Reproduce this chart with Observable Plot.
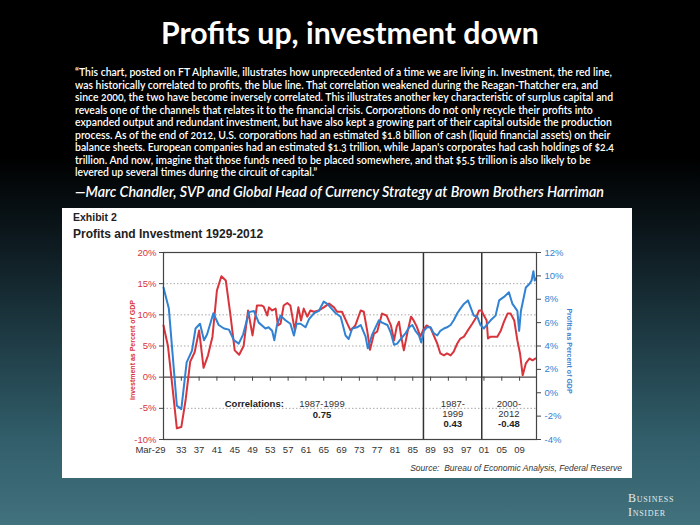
<!DOCTYPE html>
<html><head><meta charset="utf-8">
<script src="https://cdn.jsdelivr.net/npm/d3@7"></script>
<script src="https://cdn.jsdelivr.net/npm/@observablehq/plot@0.6"></script>
<style>
html,body{margin:0;padding:0;}
body{width:700px;height:525px;overflow:hidden;position:relative;
  background:linear-gradient(180deg,#000 0%,#000 30%,#0c181d 45%,#1d3841 63%,#305d69 83%,#42727d 100%);
  font-family:Lato,"Open Sans",sans-serif;}
#title{position:absolute;left:0;width:700px;top:17px;text-align:center;color:#fff;font-weight:700;font-size:29px;line-height:1;white-space:nowrap;}
#quote{position:absolute;left:75px;top:66px;color:#fff;font-size:11px;line-height:12.5px;font-weight:600;white-space:nowrap;transform-origin:0 0;font-variant-numeric:oldstyle-nums;}
#attr{position:absolute;left:75px;top:182px;color:#fff;font-style:italic;font-weight:600;font-size:15px;line-height:18px;white-space:nowrap;transform-origin:0 0;}
#panel{position:absolute;left:62px;top:208px;width:570px;height:270px;background:#fff;font-family:"Liberation Sans",Arial,sans-serif;}
#ex{position:absolute;left:11px;top:3px;font-weight:700;font-size:10.5px;color:#222;}
#sub{position:absolute;left:11px;top:19px;font-weight:700;font-size:12px;color:#222;}
#chart{position:absolute;left:1px;top:32px;}
.ytitle{position:absolute;font-weight:700;font-size:7px;white-space:nowrap;transform:translate(-50%,-50%) rotate(-90deg);}
#ltitle{left:70px;top:142px;color:#d8343b;}
#rtitle{left:507px;top:143px;color:#3a82d2;transform:translate(-50%,-50%) rotate(90deg);}
#source{position:absolute;right:10px;top:255px;font-style:italic;font-size:8.5px;color:#333;white-space:nowrap;}
#bi{position:absolute;left:628px;top:492px;color:#e3ecee;font-family:"Liberation Serif","DejaVu Serif",serif;font-variant:small-caps;font-size:12px;line-height:13.5px;letter-spacing:0.7px;}
</style></head>
<body>
<div id="title">Profits up, investment down</div>
<div id="quote">
<div><span>“This chart, posted on FT Alphaville, illustrates how unprecedented of a time we are living in. Investment, the red line,</span></div>
<div><span>was historically correlated to profits, the blue line. That correlation weakened during the Reagan-Thatcher era, and</span></div>
<div><span>since 2000, the two have become inversely correlated. This illustrates another key characteristic of surplus capital and</span></div>
<div><span>reveals one of the channels that relates it to the financial crisis. Corporations do not only recycle their profits into</span></div>
<div><span>expanded output and redundant investment, but have also kept a growing part of their capital outside the production</span></div>
<div><span>process. As of the end of 2012, U.S. corporations had an estimated $1.8 billion of cash (liquid financial assets) on their</span></div>
<div><span>balance sheets. European companies had an estimated $1.3 trillion, while Japan's corporates had cash holdings of $2.4</span></div>
<div><span>trillion. And now, imagine that those funds need to be placed somewhere, and that $5.5 trillion is also likely to be</span></div>
<div><span>levered up several times during the circuit of capital.”</span></div>
</div>
<div id="attr"><span>—Marc Chandler, SVP and Global Head of Currency Strategy at Brown Brothers Harriman</span></div>
<div id="panel">
  <div id="ex">Exhibit 2</div>
  <div id="sub">Profits and Investment 1929-2012</div>
  <div id="chart"></div>
  <div id="ltitle" class="ytitle">Investment as Percent of GDP</div>
  <div id="rtitle" class="ytitle">Profits as Percent of GDP</div>
  <div id="source">Source:&nbsp; Bureau of Economic Analysis, Federal Reserve</div>
</div>
<div id="bi">Business<br>Insider</div>
<script>
// ---- Data ----
const invYear = [1929,1930,1931,1932,1933,1934,1935,1936,1937,1938,1939,1940,1941,1942,1943,1944,1945,1946,1947,1948,1949,1950,1951,1951.5,1952.3,1952.7,1953.4,1954.2,1954.7,1955.3,1956,1956.8,1957.5,1958.1,1958.5,1959.3,1959.9,1960.5,1961.3,1962,1962.8,1963.9,1965,1966.2,1967.3,1968,1969.1,1970.3,1971,1972.1,1973.3,1974,1974.8,1975.4,1976.3,1977,1978.1,1979.1,1980.1,1980.8,1981.4,1981.9,1982.4,1983,1983.9,1984.6,1985.2,1985.9,1986.7,1987.3,1988.1,1989,1989.7,1990.5,1991.2,1992,1992.7,1993.5,1994.2,1995,1995.7,1996.5,1997.2,1998.4,1999.1,1999.9,2000.4,2001,2001.6,2001.9,2002.5,2003.3,2004,2004.8,2005.5,2006.3,2007,2007.8,2008.5,2009.1,2009.7,2010.4,2011.2,2011.9,2012.6];
const invValue = [8.3,5.0,-1.5,-8.2,-8.0,-3.5,2.5,4.0,7.5,1.5,3.5,6.5,13.9,16.2,15.5,10.2,4.3,3.6,5.0,10.7,6.7,11.5,11.5,11.3,9.9,11.2,10.7,11.0,8.3,8.6,11.5,11.9,11.5,9.1,7.5,11.2,9.1,11.0,9.7,10.7,10.5,10.7,11.2,11.8,11.2,10.5,10.5,8.6,7.5,8.3,10.7,10.5,7.3,4.4,7.0,7.3,10.2,9.9,8.3,5.9,8.1,8.9,6.5,4.3,7.5,9.7,9.1,8.1,6.5,7.5,8.3,7.9,6.7,5.4,3.8,3.5,3.8,3.5,4.1,5.4,6.2,6.5,7.3,8.6,9.4,10.7,10.7,9.9,9.1,6.2,6.5,6.5,6.5,7.5,8.9,10.2,10.2,9.1,5.9,3.8,0.3,2.2,3.0,2.7,3.0];
const profYear = [1929,1930.2,1931,1932,1933,1934.2,1935.4,1936.2,1937.2,1938.1,1938.8,1940.2,1941.4,1942.6,1943.7,1944.8,1945.9,1946.9,1948.2,1949.3,1950.4,1951.9,1952.6,1953.4,1953.9,1954.5,1955.3,1956.4,1957.5,1958.3,1958.9,1959.8,1960.9,1961.7,1962.8,1963.9,1965,1965.8,1966.5,1967.7,1968.8,1969.9,1970.6,1971.4,1972.5,1973.3,1974.4,1974.9,1975.9,1977.4,1978.1,1979.3,1980.1,1980.8,1981.5,1982.3,1983.4,1984.2,1984.9,1985.6,1986.4,1986.9,1987.5,1988.2,1989,1989.7,1990.5,1991.2,1992,1992.7,1993.5,1994.2,1995,1995.7,1996.5,1997.4,1998,1998.7,1999.5,2000.2,2001,2001.6,2002.5,2003.6,2004.4,2005.5,2006.6,2007.4,2008.5,2008.9,2009.3,2010.4,2011.2,2011.7,2012.1,2012.4,2012.7];
const profValue = [9.0,7.2,3.5,-1.1,-1.4,2.6,3.6,5.5,5.9,4.5,5.0,6.8,5.8,5.5,5.4,4.5,4.2,5.0,6.9,7.0,6.0,5.5,5.6,5.3,4.5,5.8,6.6,6.2,5.9,4.9,5.9,5.9,5.6,6.3,6.8,7.0,7.8,7.6,7.3,6.8,6.5,4.9,4.6,5.5,5.6,5.8,4.8,3.8,5.0,6.2,6.0,5.8,5.1,4.1,4.2,4.6,5.1,5.6,5.8,5.3,4.9,4.3,5.3,5.6,5.6,5.1,4.9,5.3,5.5,5.6,5.8,6.2,6.8,7.2,7.6,7.9,7.3,6.6,6.5,5.8,5.5,5.8,6.2,6.6,7.9,8.2,8.6,7.6,7.0,5.3,7.0,9.0,9.3,9.6,10.4,9.6,9.8];
const leftTicks = [-10,-5,0,5,10,15,20];
const rightTicks = [-4,-2,0,2,4,6,8,10,12];
const gridValues = [-5,5,10,15];
const xTickYears = [1929,1933,1937,1941,1945,1949,1953,1957,1961,1965,1969,1973,1977,1981,1985,1989,1993,1997,2001,2005,2009];
const xTickLabels = ["Mar-29","33","37","41","45","49","53","57","61","65","69","73","77","81","85","89","93","97","01","05","09"];
const breakYears = [1987.4, 2000.5];
const corrTexts = [
  {text:"Correlations:", year:1949.4, v:-4.3, bold:true},
  {text:"1987-1999", year:1964.6, v:-4.3, bold:false},
  {text:"0.75", year:1964.6, v:-6.0, bold:true},
  {text:"1987-", year:1994.0, v:-4.3, bold:false},
  {text:"1999", year:1994.0, v:-5.9, bold:false},
  {text:"0.43", year:1994.0, v:-7.5, bold:true},
  {text:"2000-", year:2006.6, v:-4.3, bold:false},
  {text:"2012", year:2006.6, v:-5.9, bold:false},
  {text:"-0.48", year:2006.6, v:-7.5, bold:true}
];

const RED = "#d8343b", BLUE = "#3182d2";
const toLeft = p => -10 + (p + 4) * 30 / 16;
const fromLeft = v => -4 + (v + 10) * 16 / 30;
const investment = invYear.map((x, i) => ({year: x, value: invValue[i]}));
const profits = profYear.map((x, i) => ({year: x, value: profValue[i]}));

const chart = Plot.plot({
  width: 568, height: 238,
  marginLeft: 100, marginRight: 95, marginTop: 12, marginBottom: 39,
  x: {domain: [1929, 2012.8]},
  y: {domain: [-10, 20]},
  style: {background: "transparent", fontFamily: "'Liberation Sans', Arial, sans-serif", fontSize: "9.5px", color: "#333"},
  marks: [
    Plot.ruleY(gridValues, {stroke: "#a8a8a8", strokeDasharray: "1.5,2", strokeWidth: 1}),
    Plot.ruleY([0], {stroke: "#444", strokeWidth: 1.2}),
    Plot.ruleX(xTickYears, {y1: 0, y2: -0.65, stroke: "#444"}),
    Plot.ruleX(breakYears, {stroke: "#333", strokeWidth: 1.5}),
    Plot.line(investment, {x: "year", y: "value", stroke: RED, strokeWidth: 2}),
    Plot.line(profits, {x: "year", y: d => toLeft(d.value), stroke: BLUE, strokeWidth: 2}),
    Plot.frame({stroke: "#444", strokeWidth: 1.2}),
    Plot.axisY(leftTicks, {anchor: "left", tickSize: 4, tickPadding: 3, tickFormat: d => d + "%", fill: RED, stroke: "#444", label: null}),
    Plot.axisY(rightTicks.map(toLeft), {anchor: "right", tickSize: 4, tickPadding: 4, tickFormat: v => Math.round(fromLeft(v)) + "%", fill: BLUE, stroke: "#444", label: null}),
    Plot.axisX(xTickYears.slice(1), {anchor: "bottom", tickSize: 0, tickPadding: 7, tickFormat: (d) => xTickLabels[xTickYears.indexOf(d)], fill: "#333", label: null}),
    Plot.axisX(xTickYears.slice(0, 1), {anchor: "bottom", tickSize: 0, tickPadding: 7, tickFormat: () => xTickLabels[0], textAnchor: "end", dx: 2, fill: "#333", label: null}),
    Plot.text(corrTexts.filter(d => !d.bold), {x: "year", y: "v", text: "text", fill: "#333"}),
    Plot.text(corrTexts.filter(d => d.bold), {x: "year", y: "v", text: "text", fill: "#222", fontWeight: "bold"})
  ]
});
document.getElementById("chart").append(chart);

// fit header texts to the reference widths
const t = document.getElementById("title");
const tw = t.scrollWidth ? (() => { const r = document.createRange(); r.selectNodeContents(t); return r.getBoundingClientRect().width; })() : 378;
t.style.fontSize = (29 * 378 / tw) + "px";
const q = document.getElementById("quote");
const w1 = q.querySelector("span").getBoundingClientRect().width;
q.style.transform = `scaleX(${537 / w1})`;
const a = document.getElementById("attr");
const wa = a.querySelector("span").getBoundingClientRect().width;
a.style.transform = `scaleX(${529 / wa})`;
</script>
</body></html>
